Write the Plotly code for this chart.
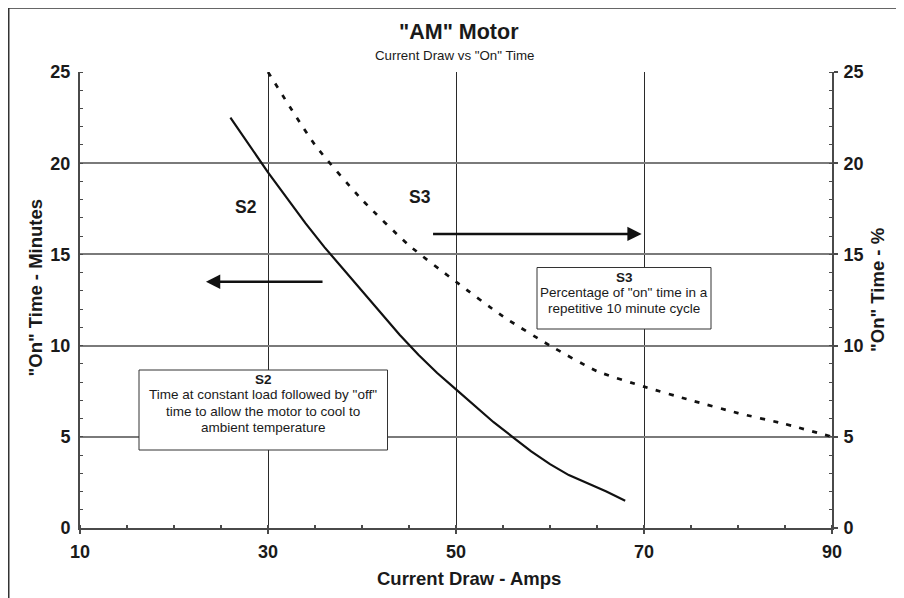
import plotly.graph_objects as go

# ---- data ----
s2_amps = [26, 28, 30, 32, 34, 36, 38, 40, 42, 44, 46, 48, 50, 52, 54, 56, 58, 60, 62, 64, 66, 68]
s2_minutes = [22.5, 21.0, 19.5, 18.1, 16.7, 15.4, 14.2, 13.0, 11.8, 10.6, 9.5, 8.5, 7.6, 6.7, 5.8, 5.0, 4.2, 3.5, 2.9, 2.45, 2.0, 1.5]
s3_amps = [30, 35, 40, 45, 50, 55, 60, 65, 70, 75, 80, 85, 90]
s3_percent = [25, 21.0, 18.0, 15.5, 13.5, 11.6, 10.0, 8.6, 7.75, 7.0, 6.3, 5.7, 5.0]
x_ticks = [10, 30, 50, 70, 90]
y_ticks = [0, 5, 10, 15, 20, 25]

title_text = '<b>"AM" Motor</b>'
subtitle_text = 'Current Draw vs "On" Time'
x_title = '<b>Current Draw - Amps</b>'
y_title = '<b>"On" Time - Minutes</b>'
y2_title = '<b>"On" Time - %</b>'
s2_note_lines = ['<b>S2</b>', 'Time at constant load followed by "off"',
                 'time to allow the motor to cool to', 'ambient temperature']
s3_note_lines = ['<b>S3</b>', 'Percentage of "on" time in a', 'repetitive 10 minute cycle']

W, H = 892, 590
L, R, T, B = 72, 68, 64, 70
PW, PH = W - L - R, H - T - B
OFF = 8  # page offset of the figure


def px(xp):
    return (xp - OFF - L) / PW


def py(yp):
    return (H - B - (yp - OFF)) / PH


FONT = "Liberation Sans, Arial, Helvetica, sans-serif"
INK = "#1a1a1a"

fig = go.Figure()
fig.add_trace(go.Scatter(x=s2_amps, y=s2_minutes, mode="lines",
                         line=dict(color="#111111", width=2.2),
                         name="S2", showlegend=False, hoverinfo="skip"))
fig.add_trace(go.Scatter(x=s3_amps, y=s3_percent, mode="lines", yaxis="y2",
                         line=dict(color="#111111", width=2.7, dash="5px,8.5px",
                                   shape="spline", smoothing=0.6),
                         name="S3", showlegend=False, hoverinfo="skip"))

axis_common = dict(showline=True, linecolor="#4a4a4a", linewidth=2,
                   tickfont=dict(family=FONT, size=18, color=INK),
                   zeroline=False)

fig.update_layout(
    width=W, height=H,
    margin=dict(l=L, r=R, t=T, b=B, pad=0),
    paper_bgcolor="white", plot_bgcolor="white",
    font=dict(family=FONT, color=INK),
    showlegend=False,
    xaxis=dict(range=[10, 90], tickvals=x_ticks, ticktext=[f"<b>{v}</b>" for v in x_ticks],
               showgrid=True, gridcolor="#2a2a2a", gridwidth=1,
               ticks="outside", ticklen=4, tickcolor="#4a4a4a", tickwidth=1.5,
               ticklabelstandoff=2,
               minor=dict(dtick=5, tick0=10, ticks="inside", ticklen=3,
                          tickcolor="#4a4a4a", tickwidth=1.5, showgrid=False),
               **axis_common),
    yaxis=dict(range=[0, 25], tickvals=y_ticks, ticktext=[f"<b>{v}</b>" for v in y_ticks],
               showgrid=True, gridcolor="#7a7a7a", gridwidth=1.5,
               ticks="", ticklabelstandoff=4,
               minor=dict(dtick=1, ticks="inside", ticklen=3,
                          tickcolor="#4a4a4a", tickwidth=1.2, showgrid=False),
               **axis_common),
    yaxis2=dict(range=[0, 25], overlaying="y", side="right",
                tickvals=y_ticks, ticktext=[f"<b>{v}</b>" for v in y_ticks],
                showgrid=False, ticks="outside", ticklen=4, tickcolor="#4a4a4a",
                tickwidth=1.5, ticklabelstandoff=2,
                minor=dict(dtick=1, ticks="inside", ticklen=3,
                           tickcolor="#4a4a4a", tickwidth=1.2, showgrid=False),
                **axis_common),
)

# outer frame (left, top, right edges)
frame = dict(type="line", xref="paper", yref="paper", line=dict(color="#333333", width=1.5), layer="above")
fig.add_shape(x0=px(8.75), x1=px(8.75), y0=py(8), y1=py(600), **frame)
fig.add_shape(x0=px(8.75), x1=px(899.25), y0=py(8), y1=py(8), **frame)
fig.add_shape(x0=px(899.25), x1=px(899.25), y0=py(8), y1=py(600), **frame)

# note boxes (white, covering grid)
box = dict(type="rect", xref="paper", yref="paper", fillcolor="white",
           line=dict(color="#333333", width=1), layer="above")
fig.add_shape(x0=px(139), x1=px(387.5), y0=py(450), y1=py(370), **box)
fig.add_shape(x0=px(537), x1=px(711), y0=py(329), y1=py(267.5), **box)

C = dict(xanchor="center", yanchor="middle", showarrow=False)
ann = []
ann.append(dict(text=title_text, xref="paper", yref="paper", x=px(459), y=py(32),
                font=dict(size=21.5, family=FONT, color=INK), **C))
ann.append(dict(text=subtitle_text, xref="paper", yref="paper", x=px(454), y=py(56),
                font=dict(size=13.3, family=FONT, color=INK), **C))
ann.append(dict(text=x_title, xref="paper", yref="paper", x=px(468.5), y=py(578),
                font=dict(size=18.5, family=FONT, color=INK), **C))
ann.append(dict(text=y_title, xref="paper", yref="paper", x=px(35), y=py(287.5),
                textangle=-90, font=dict(size=18.5, family=FONT, color=INK), **C))
ann.append(dict(text=y2_title, xref="paper", yref="paper", x=px(877), y=py(290),
                textangle=-90, font=dict(size=18.5, family=FONT, color=INK), **C))

# curve labels
ann.append(dict(text="<b>S2</b>", x=27.63, y=17.62, xref="x", yref="y",
                font=dict(size=17.5, family=FONT, color=INK), **C))
ann.append(dict(text="<b>S3</b>", x=46.17, y=18.16, xref="x", yref="y",
                font=dict(size=17.5, family=FONT, color=INK), **C))

# arrows
ann.append(dict(text="", x=23.4, y=13.5, ax=35.96, ay=13.5, xref="x", yref="y",
                axref="x", ayref="y", showarrow=True, arrowhead=2, arrowsize=1.1,
                arrowwidth=2.6, arrowcolor="#111111"))
ann.append(dict(text="", x=69.75, y=16.12, ax=47.4, ay=16.12, xref="x", yref="y",
                axref="x", ayref="y", showarrow=True, arrowhead=2, arrowsize=1.1,
                arrowwidth=2.6, arrowcolor="#111111"))

# note texts, one annotation per line for tight line spacing
for i, line in enumerate(s2_note_lines):
    ann.append(dict(text=line, xref="paper", yref="paper", x=px(263), y=py(379 + 16 * i),
                    font=dict(size=13.5, family=FONT, color=INK), **C))
for i, line in enumerate(s3_note_lines):
    ann.append(dict(text=line, xref="paper", yref="paper", x=px(624), y=py(277 + 15.6 * i),
                    font=dict(size=13.5, family=FONT, color=INK), **C))

fig.update_layout(annotations=ann)
fig.write_html("out.html")
